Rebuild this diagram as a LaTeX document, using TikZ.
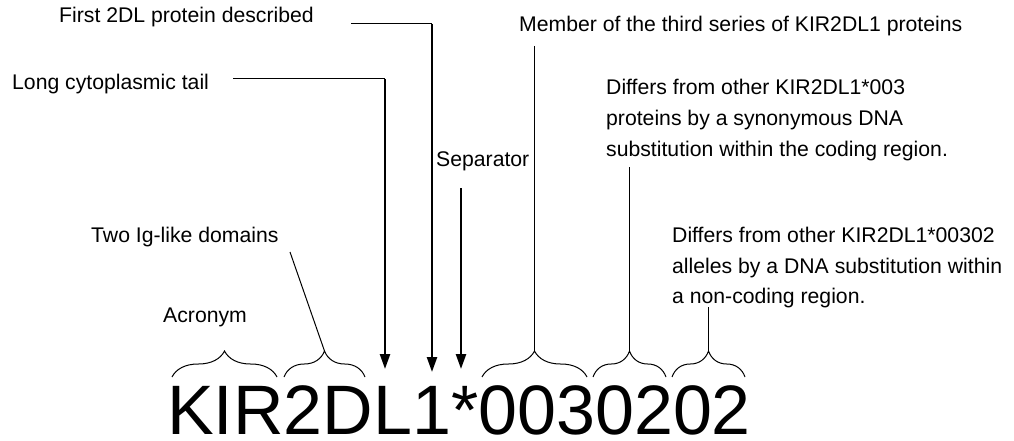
\documentclass[tikz,border=0pt]{standalone}
\usepackage{fontspec}
\setmainfont{Liberation Sans}
\usetikzlibrary{arrows.meta,decorations.pathreplacing}
\begin{document}
\begin{tikzpicture}[x=1pt,y=-1pt,
  lbl/.style={anchor=base west, inner sep=0pt, font=\fontsize{21.2}{30}\selectfont},
  leader/.style={line width=1pt},
  pointer/.style={line width=2.4pt, -{Triangle[width=10pt,length=15pt]}},
  bracket/.style={decorate, decoration={brace, amplitude=26pt}, line width=1pt}]
\useasboundingbox (0,0) rectangle (1014,441);

% the allele name
\node[anchor=base west, inner sep=0pt, text depth=0pt, font=\fontsize{70}{70}\selectfont]
  (name) at (167,434) {KIR2DL1*0030202};

% labels
\node[lbl] (first) at (59,23) {First 2DL protein described};
\node[lbl] (tail) at (12,90) {Long cytoplasmic tail};
\node[lbl] (sep) at (436,166) {Separator};
\node[lbl] (member) at (519,32) {Member of the third series of KIR2DL1 proteins};
\node[lbl] (syn1) at (606,95) {Differs from other KIR2DL1*003};
\node[lbl] (syn2) at (606,126) {proteins by a synonymous DNA};
\node[lbl] (syn3) at (606,157) {substitution within the coding region.};
\node[lbl] (nc1) at (672,242) {Differs from other KIR2DL1*00302};
\node[lbl] (nc2) at (672,273) {alleles by a DNA substitution within};
\node[lbl] (nc3) at (672,303) {a non-coding region.};
\node[lbl] (ig) at (91,242) {Two Ig-like domains};
\node[lbl] (acr) at (163,322) {Acronym};

% braces under the label groups: end points and tips
\coordinate (bAl) at (172,377); \coordinate (bAr) at (277,377);
\coordinate (bBl) at (284,377); \coordinate (bBr) at (365,377);
\coordinate (bCl) at (482,377); \coordinate (bCr) at (587,377);
\coordinate (bDl) at (593,377); \coordinate (bDr) at (666,377);
\coordinate (bEl) at (672,377); \coordinate (bEr) at (745,377);
\draw[bracket] (bAl) -- (bAr);
\draw[bracket] (bBl) -- (bBr);
\draw[bracket] (bCl) -- (bCr);
\draw[bracket] (bDl) -- (bDr);
\draw[bracket] (bEl) -- (bEr);
\coordinate (tipB) at (324.5,351);
\coordinate (tipC) at (534.5,351);
\coordinate (tipD) at (629.5,351);
\coordinate (tipE) at (708.5,351);

% leaders to the braces
\coordinate (igS) at (290,252);
\draw[leader] (igS) -- (tipB);
\coordinate (memS) at (534.5,46);
\draw[leader] (memS) -- (tipC);
\coordinate (synS) at (629.5,167);
\draw[leader] (synS) -- (tipD);
\coordinate (ncS) at (708.5,307);
\draw[leader] (ncS) -- (tipE);

% pointers to single characters
\coordinate (tailS) at (233,79); \coordinate (tailC) at (385,79);
\coordinate (tailT) at (385,369);
\draw[leader] (tailS) -- (tailC);
\draw[pointer] (tailC) -- (tailT);
\coordinate (firstS) at (351,24); \coordinate (firstC) at (432,24);
\coordinate (firstT) at (432,372);
\draw[leader] (firstS) -- (firstC);
\draw[pointer] (firstC) -- (firstT);
\coordinate (sepS) at (461,188); \coordinate (sepT) at (461,369);
\draw[pointer] (sepS) -- (sepT);
\end{tikzpicture}
\end{document}
